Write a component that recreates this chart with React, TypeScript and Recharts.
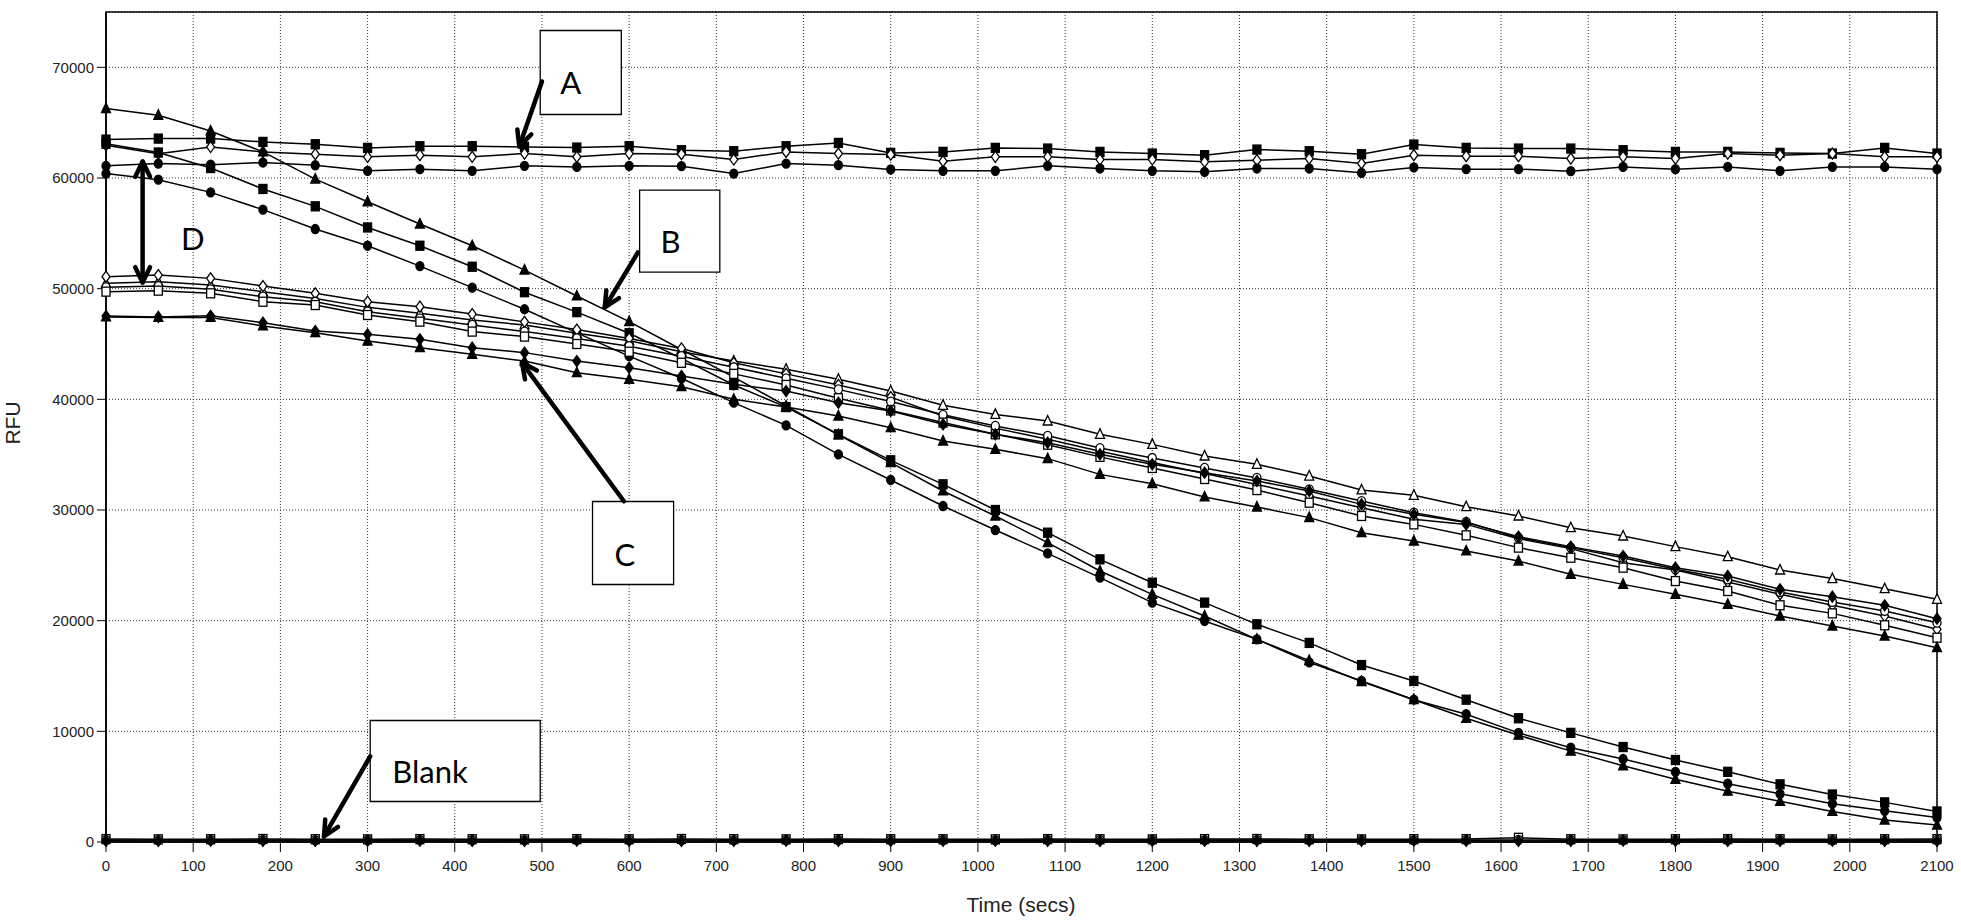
import React from "react";
import {
  LineChart,
  Line,
  XAxis,
  YAxis,
  CartesianGrid,
  ReferenceArea,
  ReferenceLine,
  ReferenceDot,
} from "recharts";

// time points (secs)
const TIME = [
  0, 60, 120, 180, 240, 300, 360, 420, 480, 540, 600, 660, 720, 780, 840, 900, 960, 1020,
  1080, 1140, 1200, 1260, 1320, 1380, 1440, 1500, 1560, 1620, 1680, 1740, 1800, 1860, 1920, 1980, 2040, 2100,
];

// group A (flat, ~61000-63500)
const A_SQ = [
  63470, 63560, 63560, 63260, 63050, 62720, 62870, 62870, 62810, 62750, 62870, 62510, 62420, 62870, 63170, 62270, 62360, 62720,
  62660, 62360, 62210, 62060, 62570, 62420, 62150, 63020, 62720, 62660, 62660, 62510, 62360, 62360, 62270, 62210, 62720, 62210,
];
const A_OPEN = [
  62960, 62200, 62800, 62360, 62150, 61910, 62060, 61910, 62210, 61910, 62210, 62150, 61670, 62360, 62210, 62120, 61520, 61910,
  61910, 61670, 61670, 61460, 61610, 61760, 61310, 62060, 61970, 61970, 61760, 61910, 61760, 62210, 62060, 62210, 61910, 61910,
];
const A_CIRC = [
  61100, 61300, 61200, 61400, 61150, 60650, 60800, 60650, 61100, 61000, 61100, 61070, 60400, 61300, 61160, 60770, 60650, 60650,
  61100, 60860, 60650, 60560, 60860, 60860, 60470, 60950, 60800, 60800, 60620, 61000, 60800, 61000, 60650, 61000, 61000, 60800,
];

// group B / D (steep decay)
const B_TRI = [
  66270, 65670, 64250, 62360, 59900, 57850, 55840, 53880, 51680, 49340, 47020, 44500, 42000, 39400, 36800, 34280, 31720, 29460,
  27050, 24490, 22380, 20420, 18310, 16390, 14500, 12860, 11180, 9650, 8210, 6890, 5670, 4590, 3680, 2760, 1990, 1530,
];
const B_SQ = [
  63100, 62300, 60900, 59010, 57440, 55530, 53880, 51980, 49680, 47880, 45970, 43700, 41300, 39300, 36840, 34490, 32320, 30000,
  27950, 25540, 23430, 21630, 19670, 17990, 15990, 14550, 12860, 11180, 9860, 8580, 7410, 6340, 5210, 4290, 3580, 2760,
];
const B_CIRC = [
  60400, 59850, 58700, 57140, 55390, 53880, 52040, 50090, 48140, 46000, 43900, 41900, 39700, 37650, 35030, 32710, 30360, 28190,
  26080, 23890, 21630, 19970, 18310, 16230, 14550, 12860, 11550, 9860, 8520, 7500, 6340, 5270, 4350, 3460, 2820, 2210,
];

// group C (slow decay)
const C_OPEN_TRI = [
  50480, 50630, 50330, 49730, 49120, 48310, 47770, 47170, 46720, 45970, 45300, 44300, 43460, 42710, 41810, 40750, 39460, 38640,
  38040, 36840, 35930, 34880, 34130, 33070, 31810, 31330, 30300, 29460, 28400, 27650, 26690, 25780, 24580, 23800, 22890, 21930,
];
const C_OPEN_DIA = [
  51080, 51230, 50930, 50240, 49580, 48820, 48370, 47710, 47000, 46300, 45500, 44600, 43300, 42300, 41300, 40200, 38500, 37400,
  36400, 35300, 34300, 33300, 32300, 31270, 30210, 29160, 28700, 27410, 26510, 25240, 24580, 23490, 22380, 21390, 20420, 19220,
];
const C_OPEN_CIRC = [
  50120, 50240, 49940, 49280, 48820, 47920, 47320, 46720, 46120, 45500, 44800, 43900, 42900, 41900, 40900, 39800, 38600, 37600,
  36700, 35600, 34700, 33800, 32900, 31870, 30810, 29760, 28920, 27500, 26600, 25690, 24640, 23740, 22590, 21690, 20880, 19820,
];
const C_OPEN_SQ = [
  49730, 49820, 49580, 48820, 48520, 47620, 47020, 46120, 45670, 45000, 44300, 43300, 42300, 41300, 40100, 39000, 37900, 36840,
  35900, 34800, 33800, 32800, 31800, 30660, 29460, 28700, 27710, 26600, 25690, 24790, 23580, 22680, 21390, 20660, 19580, 18460,
];
const C_FILL_DIA = [
  47530, 47450, 47550, 46930, 46170, 45870, 45420, 44670, 44220, 43460, 42860, 42110, 41360, 40750, 39700, 38950, 37740, 36840,
  36080, 35030, 34130, 33370, 32620, 31720, 30510, 29610, 28860, 27590, 26690, 25840, 24790, 24040, 22830, 22170, 21390, 20180,
];
const C_FILL_TRI = [
  47450, 47400, 47400, 46630, 46020, 45270, 44670, 44070, 43460, 42410, 41810, 41140, 40000, 39300, 38490, 37440, 36230, 35480,
  34640, 33220, 32380, 31180, 30270, 29310, 27950, 27200, 26300, 25390, 24190, 23280, 22380, 21470, 20420, 19520, 18610, 17560,
];

// blanks (~0)
const BLANK_1 = [
  260, 240, 250, 270, 250, 240, 260, 250, 240, 260, 250, 270, 250, 240, 260, 250, 250, 240,
  260, 250, 240, 260, 270, 250, 240, 250, 260, 380, 250, 240, 250, 260, 250, 240, 250, 260,
];
const BLANK_2 = [
  180, 170, 190, 180, 170, 180, 190, 180, 170, 180, 190, 180, 170, 180, 180, 190, 180, 170,
  180, 190, 180, 170, 180, 190, 180, 170, 180, 190, 180, 170, 180, 190, 180, 170, 180, 190,
];
const BLANK_3 = [
  110, 100, 120, 110, 100, 110, 120, 100, 110, 120, 110, 100, 110, 120, 110, 100, 110, 120,
  110, 100, 110, 120, 110, 100, 110, 120, 110, 100, 110, 120, 110, 100, 110, 120, 110, 100,
];

const X_TICKS = [0, 100, 200, 300, 400, 500, 600, 700, 800, 900, 1000, 1100, 1200, 1300, 1400, 1500, 1600, 1700, 1800, 1900, 2000, 2100];
const Y_TICKS = [0, 10000, 20000, 30000, 40000, 50000, 60000, 70000];
const X_MINOR = Array.from({ length: 106 }, (_, i) => i * 20);
const Y_MINOR = Array.from({ length: 38 }, (_, i) => i * 2000);

const SERIES: { key: string; values: number[]; shape: string; filled: boolean }[] = [
  { key: "blank1", values: BLANK_1, shape: "square", filled: false },
  { key: "blank2", values: BLANK_2, shape: "circle", filled: false },
  { key: "blank3", values: BLANK_3, shape: "diamond", filled: true },
  { key: "aSq", values: A_SQ, shape: "square", filled: true },
  { key: "aOpen", values: A_OPEN, shape: "diamond", filled: false },
  { key: "aCirc", values: A_CIRC, shape: "circle", filled: true },
  { key: "bTri", values: B_TRI, shape: "triangle", filled: true },
  { key: "bSq", values: B_SQ, shape: "square", filled: true },
  { key: "bCirc", values: B_CIRC, shape: "circle", filled: true },
  { key: "cOpenTri", values: C_OPEN_TRI, shape: "triangle", filled: false },
  { key: "cOpenDia", values: C_OPEN_DIA, shape: "diamond", filled: false },
  { key: "cOpenCirc", values: C_OPEN_CIRC, shape: "circle", filled: false },
  { key: "cOpenSq", values: C_OPEN_SQ, shape: "square", filled: false },
  { key: "cFillDia", values: C_FILL_DIA, shape: "diamond", filled: true },
  { key: "cFillTri", values: C_FILL_TRI, shape: "triangle", filled: true },
];

const data = TIME.map((t, i) => {
  const row: Record<string, number> = { t };
  SERIES.forEach((s) => {
    row[s.key] = s.values[i];
  });
  return row;
});

// annotation boxes in data units
const BOXES = [
  { text: "A", x1: 498, x2: 591, y1: 65740, y2: 73330, dx: 20, dy: 64 },
  { text: "B", x1: 612, x2: 704, y1: 51490, y2: 58900, dx: 21, dy: 63 },
  { text: "C", x1: 558, x2: 651, y1: 23270, y2: 30770, dx: 22, dy: 65 },
  { text: "Blank", x1: 303, x2: 498, y1: 3660, y2: 10980, dx: 22, dy: 63 },
];
const ARROWS = [
  { from: [500, 68720], to: [474, 62850], both: false },
  { from: [610, 53270], to: [572, 48300], both: false },
  { from: [594, 30790], to: [477, 43320], both: false },
  { from: [303, 7730], to: [250, 500], both: false },
  { from: [42, 61490], to: [42, 50560], both: true },
];

const AXIS_FONT = "'Liberation Sans', Arial, sans-serif";
const NOTE_FONT = "Lato, 'Open Sans', sans-serif";

const Marker = (props: any) => {
  const { cx, cy, shape, filled } = props;
  if (cx == null || cy == null) return null;
  const fill = filled ? "#000" : "#fff";
  const common = { fill, stroke: "#000", strokeWidth: 1.3 };
  if (shape === "square") return <rect x={cx - 4} y={cy - 4.5} width={8} height={9} {...common} />;
  if (shape === "circle") return <ellipse cx={cx} cy={cy} rx={4} ry={4.5} {...common} />;
  if (shape === "diamond")
    return <polygon points={`${cx},${cy - 5.5} ${cx + 4},${cy} ${cx},${cy + 5.5} ${cx - 4},${cy}`} {...common} />;
  return <polygon points={`${cx},${cy - 5.5} ${cx + 4.5},${cy + 4} ${cx - 4.5},${cy + 4}`} {...common} />;
};

const arrowHead = (tx: number, ty: number, fx: number, fy: number) => {
  const ang = Math.atan2(ty - fy, tx - fx);
  const L = 17;
  const a = 0.45;
  const p1 = [tx - L * Math.cos(ang - a), ty - L * Math.sin(ang - a)];
  const p2 = [tx - L * Math.cos(ang + a), ty - L * Math.sin(ang + a)];
  return (
    <polyline
      points={`${p1[0]},${p1[1]} ${tx},${ty} ${p2[0]},${p2[1]}`}
      fill="none"
      stroke="#000"
      strokeWidth={4.5}
      strokeLinecap="round"
      strokeLinejoin="round"
    />
  );
};

const arrowShape = (both: boolean) => (p: any) => {
  const { x1, y1, x2, y2 } = p;
  if ([x1, y1, x2, y2].some((v) => v == null || isNaN(v))) return <g />;
  return (
    <g>
      <line x1={x1} y1={y1} x2={x2} y2={y2} stroke="#000" strokeWidth={4.5} strokeLinecap="round" />
      {arrowHead(x2, y2, x1, y1)}
      {both && arrowHead(x1, y1, x2, y2)}
    </g>
  );
};

const App: React.FC = () => {
  return (
    <div style={{ position: "absolute", left: 0, top: 0, width: 1961, height: 920, background: "#fff" }}>
      <LineChart width={1961} height={920} data={data} margin={{ top: 12, right: 24, bottom: 18, left: 36 }}>
        <XAxis
          xAxisId="minor"
          type="number"
          dataKey="t"
          domain={[0, 2100]}
          allowDataOverflow
          ticks={X_MINOR}
          height={0}
          axisLine={false}
          tickSize={5}
          tickFormatter={() => ""}
          tickLine={{ stroke: "#000" }}
        />
        <YAxis
          yAxisId="minor"
          type="number"
          domain={[0, 75000]}
          allowDataOverflow
          ticks={Y_MINOR}
          width={0}
          axisLine={false}
          tickSize={4}
          tickFormatter={() => ""}
          tickLine={{ stroke: "#000" }}
        />
        <CartesianGrid stroke="#333" strokeDasharray="1 2" />
        <XAxis
          type="number"
          dataKey="t"
          domain={[0, 2100]}
          ticks={X_TICKS}
          height={60}
          tickSize={10}
          tickMargin={8}
          axisLine={{ stroke: "#000", strokeWidth: 1.5 }}
          tickLine={{ stroke: "#000" }}
          tick={{ fontSize: 15, fill: "#222", fontFamily: AXIS_FONT }}
          label={{
            content: () => (
              <text x={1021} y={912} textAnchor="middle" fontSize={21} fill="#222" fontFamily={AXIS_FONT}>
                Time (secs)
              </text>
            ),
          }}
        />
        <YAxis
          type="number"
          domain={[0, 75000]}
          ticks={Y_TICKS}
          width={70}
          tickSize={9}
          tickMargin={3}
          axisLine={{ stroke: "#000", strokeWidth: 1.5 }}
          tickLine={{ stroke: "#000" }}
          tick={{ fontSize: 15, fill: "#222", fontFamily: AXIS_FONT }}
          label={{
            content: () => (
              <text x={20} y={423} transform="rotate(-90 20 423)" textAnchor="middle" fontSize={21} fill="#222" fontFamily={AXIS_FONT}>
                RFU
              </text>
            ),
          }}
        />
        <ReferenceArea x1={0} x2={2100} y1={0} y2={75000} fill="none" stroke="#000" strokeWidth={1.5} />
        {BOXES.map((b) => (
          <ReferenceArea
            key={b.text}
            x1={b.x1}
            x2={b.x2}
            y1={b.y1}
            y2={b.y2}
            fill="#fff"
            fillOpacity={1}
            stroke="#000"
            strokeWidth={1.3}
            label={(p: any) => {
              const vb = p && p.viewBox ? p.viewBox : { x: 0, y: 0 };
              return (
                <text x={vb.x + b.dx} y={vb.y + b.dy} fontSize={31} fill="#000" fontFamily={NOTE_FONT}>
                  {b.text}
                </text>
              );
            }}
          />
        ))}
        {SERIES.map((s) => (
          <Line
            key={s.key}
            type="linear"
            dataKey={s.key}
            stroke="#000"
            strokeWidth={1.5}
            isAnimationActive={false}
            activeDot={false}
            dot={(p: any) => (
              <Marker key={`${s.key}-${p.index}`} cx={p.cx} cy={p.cy} shape={s.shape} filled={s.filled} />
            )}
          />
        ))}
        {ARROWS.map((a, i) => (
          <ReferenceLine
            key={`arrow-${i}`}
            segment={[
              { x: a.from[0], y: a.from[1] },
              { x: a.to[0], y: a.to[1] },
            ]}
            ifOverflow="visible"
            shape={arrowShape(a.both)}
          />
        ))}
        <ReferenceDot
          x={86}
          y={53520}
          ifOverflow="visible"
          shape={(p: any) => (
            <text x={p.cx} y={p.cy} fontSize={31} fill="#000" fontFamily={NOTE_FONT}>
              D
            </text>
          )}
        />
      </LineChart>
    </div>
  );
};

export default App;
